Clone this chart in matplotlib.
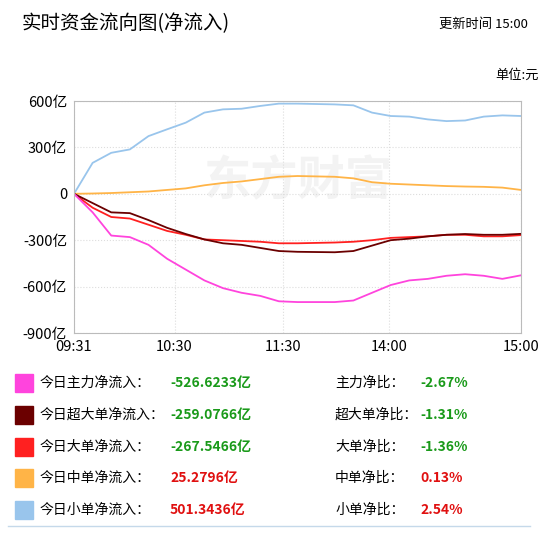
import matplotlib.pyplot as plt

plt.rcParams['font.family'] = ['Noto Sans CJK SC', 'DejaVu Sans']

minutes = [0, 10, 20, 30, 40, 50, 60, 70, 80, 90, 100, 110, 120, 140, 150, 160, 170, 180, 190, 200, 210, 220, 230, 240]
main_flow = [0, -120, -270, -280, -330, -420, -490, -560, -610, -640, -660, -695, -700, -700, -690, -640, -590, -560, -550, -530, -520, -530, -550, -527]
super_flow = [0, -60, -120, -125, -170, -220, -260, -295, -320, -330, -350, -370, -375, -378, -370, -335, -300, -290, -275, -265, -260, -265, -265, -259]
large_flow = [0, -90, -150, -160, -200, -240, -265, -295, -300, -305, -310, -320, -320, -315, -310, -300, -285, -280, -275, -265, -265, -275, -275, -267]
mid_flow = [0, 2, 5, 10, 15, 25, 35, 55, 70, 80, 95, 110, 115, 110, 100, 75, 65, 60, 55, 50, 47, 45, 40, 25]
small_flow = [0, 200, 265, 287, 373, 417, 460, 525, 546, 550, 568, 583, 583, 578, 572, 525, 503, 499, 481, 470, 474, 499, 507, 503]

tick_pos = [0, 54, 112, 169, 240]
tick_labels = ['09:31', '10:30', '11:30', '14:00', '15:00']

colors = ['#ff44dd', '#6b0000', '#ff2020', '#ffb447', '#99c5ec']
names = ['今日主力净流入：', '今日超大单净流入：', '今日大单净流入：', '今日中单净流入：', '今日小单净流入：']
totals = ['-526.6233亿', '-259.0766亿', '-267.5466亿', '25.2796亿', '501.3436亿']
ratio_names = ['主力净比：', '超大单净比：', '大单净比：', '中单净比：', '小单净比：']
ratios = ['-2.67%', '-1.31%', '-1.36%', '0.13%', '2.54%']

fig = plt.figure(figsize=(5.5, 5.36), dpi=100)
fig.text(0.04, 0.955, '实时资金流向图(净流入)', fontsize=14, va='center')
fig.text(0.96, 0.955, '更新时间 15:00', fontsize=9.5, va='center', ha='right')
fig.text(0.98, 0.86, '单位:元', fontsize=9.5, ha='right', va='center')

ax = fig.add_axes([74 / 550, 1 - 333 / 536, 447 / 550, 232 / 536])
series = [main_flow, super_flow, large_flow, mid_flow, small_flow]
order = [4, 3, 2, 1, 0]
for i in order:
    ax.plot(minutes, series[i], color=colors[i], lw=1.3)
ax.text(120, 80, '东方财富', fontsize=34, color='#f3f3f3', ha='center', va='center',
        fontweight='bold', zorder=0)
ax.set_xlim(0, 240)
ax.set_ylim(-900, 600)
ax.set_yticks([600, 300, 0, -300, -600, -900])
ax.set_yticklabels(['600亿', '300亿', '0', '-300亿', '-600亿', '-900亿'])
ax.set_xticks(tick_pos)
ax.set_xticklabels(tick_labels)
ax.tick_params(length=0, labelsize=10.5, pad=5)
ax.grid(True, color='#dddddd', ls=':', lw=0.8)
for s in ax.spines.values():
    s.set_color('#bbbbbb')

rows_y = [383, 415, 447, 478, 510]
for i, y in enumerate(rows_y):
    fy = 1 - y / 536
    fig.add_artist(plt.Rectangle((15 / 550, fy - 9 / 536), 18 / 550, 18 / 536, color=colors[i]))
    fig.text(40 / 550, fy, names[i], fontsize=10, va='center')
    vc = '#1a9a1a' if totals[i].startswith('-') else '#e01010'
    fig.text(170 / 550, fy, totals[i], fontsize=10, va='center', color=vc, fontweight='bold')
    fig.text(335 / 550, fy, ratio_names[i], fontsize=10, va='center')
    fig.text(420 / 550, fy, ratios[i], fontsize=10, va='center', color=vc, fontweight='bold')
fig.add_artist(plt.Line2D([8 / 550, 530 / 550], [1 - 526 / 536] * 2, color='#c5d9ea', lw=1))

fig.savefig('out.png', dpi=100)
